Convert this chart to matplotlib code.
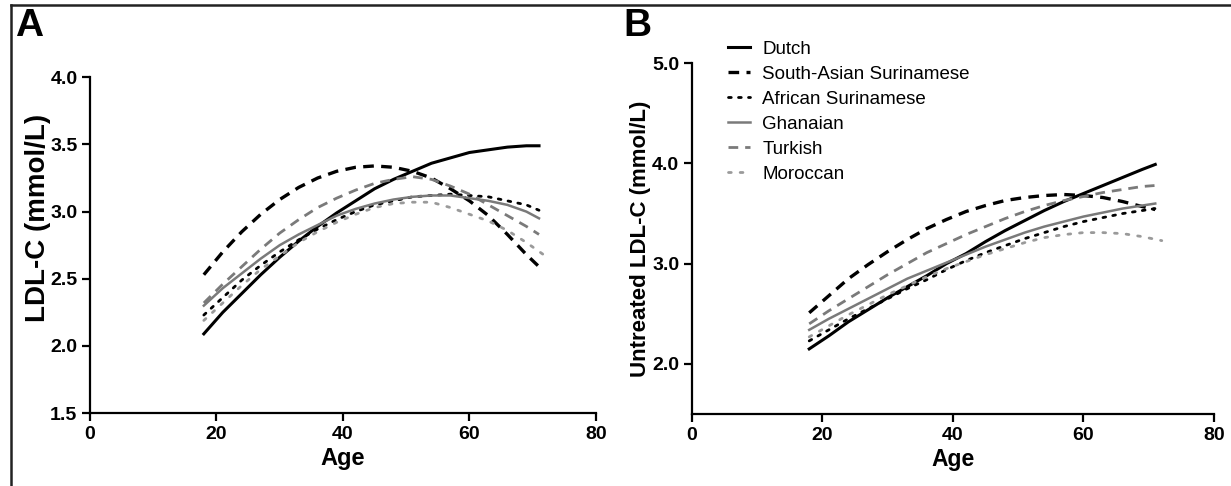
import numpy as np
import matplotlib
matplotlib.use("Agg")
import matplotlib.pyplot as plt
from matplotlib.lines import Line2D

plt.rcParams['font.family'] = ['Liberation Sans', 'DejaVu Sans']

groups = ['Dutch', 'South-Asian Surinamese', 'African Surinamese',
          'Ghanaian', 'Turkish', 'Moroccan']

# fitted curves, value at each age (mmol/L)
ages = [18, 21, 24, 27, 30, 33, 36, 39, 42, 45, 48, 51, 54, 57, 60, 63, 66, 69, 71]
ages_mor = [18, 21, 24, 27, 30, 33, 36, 39, 42, 45, 48, 51, 54, 57, 60, 63, 66, 69, 72]

# panel A: LDL-C
a_dutch = [2.09, 2.25, 2.39, 2.53, 2.66, 2.78, 2.89, 2.99, 3.08, 3.17, 3.24, 3.30,
           3.36, 3.40, 3.44, 3.46, 3.48, 3.49, 3.49]
a_sas   = [2.53, 2.70, 2.85, 2.98, 3.09, 3.18, 3.25, 3.30, 3.33, 3.34, 3.33, 3.30,
           3.25, 3.17, 3.08, 2.97, 2.83, 2.68, 2.59]
a_afs   = [2.23, 2.36, 2.49, 2.60, 2.70, 2.79, 2.87, 2.94, 3.00, 3.05, 3.08, 3.11,
           3.12, 3.13, 3.12, 3.11, 3.08, 3.05, 3.01]
a_gha   = [2.30, 2.43, 2.54, 2.65, 2.75, 2.83, 2.90, 2.97, 3.02, 3.06, 3.09, 3.11,
           3.12, 3.12, 3.10, 3.08, 3.05, 3.00, 2.95]
a_tur   = [2.32, 2.46, 2.59, 2.72, 2.84, 2.94, 3.03, 3.10, 3.16, 3.21, 3.24, 3.26,
           3.24, 3.19, 3.13, 3.05, 2.97, 2.89, 2.83]
a_mor   = [2.19, 2.32, 2.45, 2.57, 2.67, 2.77, 2.85, 2.92, 2.98, 3.03, 3.06, 3.07,
           3.07, 3.03, 2.98, 2.93, 2.86, 2.77, 2.67]

# panel B: untreated LDL-C
b_dutch = [2.15, 2.28, 2.42, 2.54, 2.66, 2.77, 2.88, 3.00, 3.10, 3.22, 3.33, 3.43,
           3.53, 3.62, 3.70, 3.78, 3.86, 3.94, 3.99]
b_sas   = [2.51, 2.68, 2.85, 2.99, 3.12, 3.24, 3.35, 3.44, 3.52, 3.58, 3.63, 3.66,
           3.68, 3.69, 3.68, 3.66, 3.62, 3.57, 3.54]
b_afs   = [2.23, 2.34, 2.45, 2.55, 2.65, 2.75, 2.84, 2.94, 3.03, 3.11, 3.18, 3.25,
           3.31, 3.37, 3.42, 3.46, 3.50, 3.53, 3.55]
b_gha   = [2.34, 2.45, 2.55, 2.65, 2.75, 2.85, 2.93, 3.01, 3.09, 3.17, 3.24, 3.31,
           3.37, 3.42, 3.47, 3.51, 3.55, 3.58, 3.60]
b_tur   = [2.40, 2.53, 2.65, 2.77, 2.89, 3.00, 3.11, 3.20, 3.29, 3.37, 3.45, 3.52,
           3.58, 3.63, 3.67, 3.71, 3.74, 3.77, 3.78]
b_mor   = [2.27, 2.38, 2.49, 2.59, 2.69, 2.78, 2.87, 2.95, 3.02, 3.09, 3.15, 3.21,
           3.26, 3.29, 3.31, 3.31, 3.30, 3.27, 3.23]

styles = [
    dict(color='black', lw=2.2, ls='-'),
    dict(color='black', lw=2.4, ls=(0, (3.2, 2.2))),
    dict(color='black', lw=2.0, ls=(0, (1, 2.6)), dash_capstyle='round'),
    dict(color='#7a7a7a', lw=1.8, ls='-'),
    dict(color='#7a7a7a', lw=2.0, ls=(0, (3.5, 2.5))),
    dict(color='#9a9a9a', lw=2.0, ls=(0, (1, 3.2)), dash_capstyle='round'),
]

fig = plt.figure(figsize=(12.31, 4.86), dpi=100)
axA = fig.add_axes([0.0731, 0.150, 0.411, 0.691])
axB = fig.add_axes([0.5619, 0.148, 0.4243, 0.722])

def draw(ax, series, ylim, yticks, ylabel, ylabel_size, xlabel_size, ylabel_xy):
    for vals, st in zip(series, styles):
        x = ages_mor if vals is series[-1] else ages
        ax.plot(x, vals, solid_joinstyle='round', **st)
    ax.set_xlim(0, 80)
    ax.set_ylim(*ylim)
    ax.set_xticks([0, 20, 40, 60, 80])
    ax.set_yticks(yticks)
    ax.yaxis.set_major_formatter(matplotlib.ticker.FormatStrFormatter('%.1f'))
    for s in ['top', 'right']:
        ax.spines[s].set_visible(False)
    for s in ['left', 'bottom']:
        ax.spines[s].set_linewidth(1.6)
    ax.tick_params(direction='out', length=6, width=1.6, labelsize=14, pad=3)
    for lab in ax.get_xticklabels() + ax.get_yticklabels():
        lab.set_fontweight('bold')
    ax.set_xlabel('Age', fontsize=xlabel_size, fontweight='bold', labelpad=3)
    ax.set_ylabel(ylabel, fontsize=ylabel_size, fontweight='bold')
    ax.yaxis.set_label_coords(*ylabel_xy)

draw(axA, [a_dutch, a_sas, a_afs, a_gha, a_tur, a_mor], (1.5, 4.0),
     [1.5, 2.0, 2.5, 3.0, 3.5, 4.0], 'LDL-C (mmol/L)', 20, 17, (-0.077, 0.58))
draw(axB, [b_dutch, b_sas, b_afs, b_gha, b_tur, b_mor], (1.5, 5.0),
     [2.0, 3.0, 4.0, 5.0], 'Untreated LDL-C (mmol/L)', 16, 16.5, (-0.078, 0.5))

handles = [Line2D([], [], **st) for st in styles]
fig.legend(handles, groups, loc='upper left', bbox_to_anchor=(0.578, 0.951),
           frameon=False, fontsize=13.5, handlelength=1.15, handletextpad=0.65,
           labelspacing=0.42)

fig.text(0.012, 0.925, 'A', fontsize=28, fontweight='bold')
fig.text(0.506, 0.925, 'B', fontsize=28, fontweight='bold')

# outer frame
fig.add_artist(Line2D([0.009, 1.0], [0.990, 0.990], color='#222222', lw=1.8,
                      transform=fig.transFigure))
fig.add_artist(Line2D([0.009, 0.009], [0.0, 0.990], color='#222222', lw=1.8,
                      transform=fig.transFigure))

fig.savefig('out.png', dpi=100)
